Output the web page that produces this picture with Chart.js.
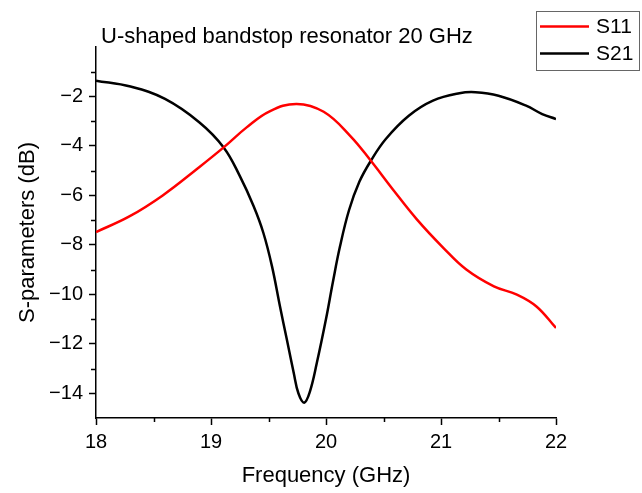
<!DOCTYPE html>
<html>
<head>
<meta charset="utf-8">
<title>U-shaped bandstop resonator 20 GHz</title>
<script src="https://cdn.jsdelivr.net/npm/chart.js@4/dist/chart.umd.min.js"></script>
<style>
  html, body { margin: 0; padding: 0; background: #fff; }
  #wrap { width: 642px; height: 493px; }
</style>
</head>
<body>
<div id="wrap">
  <canvas id="chart" width="642" height="493"></canvas>
</div>
<script>
// frequency samples (GHz) and S-parameters (dB)
const freqS11 = [18.0, 18.29, 18.58, 18.9, 19.11, 19.31, 19.51, 19.745, 19.98, 20.21, 20.39, 20.58, 20.79, 21.02, 21.22, 21.46, 21.66, 21.83, 22.0];
const s11 = [-7.48, -6.85, -6.0, -4.85, -4.06, -3.25, -2.6, -2.3, -2.62, -3.59, -4.6, -5.75, -6.97, -8.12, -9.0, -9.68, -10.01, -10.49, -11.36];

const freqS21 = [18.0, 18.3, 18.6, 18.9, 19.11, 19.25, 19.37, 19.455, 19.53, 19.6, 19.66, 19.72, 19.76, 19.81, 19.86, 19.92, 20.0, 20.06, 20.12, 20.2, 20.29, 20.39, 20.52, 20.72, 20.93, 21.16, 21.3, 21.5, 21.74, 21.88, 22.0];
const s21 = [-1.36, -1.6, -2.1, -3.05, -4.06, -5.21, -6.43, -7.51, -8.86, -10.49, -11.84, -13.19, -14.0, -14.38, -13.93, -12.78, -11.0, -9.5, -8.1, -6.6, -5.45, -4.6, -3.72, -2.78, -2.17, -1.87, -1.83, -1.97, -2.37, -2.71, -2.91];

const xTicks = [18, 19, 20, 21, 22];
const xMinor = [18.5, 19.5, 20.5, 21.5];
const yTicks = [-14, -12, -10, -8, -6, -4, -2];
const yMinor = [-13, -11, -9, -7, -5, -3, -1];

const FONT = "'Liberation Sans', Arial, Helvetica, sans-serif";
const titleText = 'U-shaped bandstop resonator 20 GHz';

function toPoints(xs, ys) {
  return xs.map((x, i) => ({ x: x, y: ys[i] }));
}

// minor ticks, plot title and the boxed legend
const decorations = {
  id: 'decorations',
  afterDraw(chart) {
    const ctx = chart.ctx;
    const xs = chart.scales.x;
    const ys = chart.scales.y;
    const area = chart.chartArea;

    ctx.save();
    ctx.strokeStyle = '#000';
    ctx.lineWidth = 1.5;
    ctx.beginPath();
    xMinor.forEach(v => {
      const px = Math.round(xs.getPixelForValue(v)) + 0.5;
      ctx.moveTo(px, area.bottom);
      ctx.lineTo(px, area.bottom + 4);
    });
    yMinor.forEach(v => {
      const py = Math.round(ys.getPixelForValue(v)) + 0.5;
      ctx.moveTo(area.left, py);
      ctx.lineTo(area.left - 5, py);
    });
    ctx.stroke();

    // title
    ctx.fillStyle = '#000';
    ctx.font = '22px ' + FONT;
    ctx.textAlign = 'left';
    ctx.textBaseline = 'middle';
    ctx.fillText(titleText, area.left + 5, 37);

    // legend
    ctx.strokeStyle = '#666';
    ctx.lineWidth = 1;
    ctx.strokeRect(536.5, 11.5, 103, 59);
    ctx.font = '21px ' + FONT;
    chart.data.datasets.forEach((ds, i) => {
      const y = 26.5 + i * 27;
      ctx.strokeStyle = ds.borderColor;
      ctx.lineWidth = 2.5;
      ctx.beginPath();
      ctx.moveTo(540, y);
      ctx.lineTo(589, y);
      ctx.stroke();
      ctx.fillStyle = '#000';
      ctx.fillText(ds.label, 596, y + 1);
    });
    ctx.restore();
  }
};

new Chart(document.getElementById('chart'), {
  type: 'scatter',
  data: {
    datasets: [
      {
        label: 'S11',
        data: toPoints(freqS11, s11),
        showLine: true,
        borderColor: '#ff0000',
        borderWidth: 2.5,
        pointRadius: 0,
        tension: 0.4
      },
      {
        label: 'S21',
        data: toPoints(freqS21, s21),
        showLine: true,
        borderColor: '#000000',
        borderWidth: 2.5,
        pointRadius: 0,
        tension: 0.4
      }
    ]
  },
  options: {
    responsive: false,
    animation: false,
    layout: { padding: { top: 47, right: 86, left: 0, bottom: 0 } },
    plugins: {
      legend: { display: false },
      title: { display: false },
      tooltip: { enabled: false }
    },
    scales: {
      x: {
        type: 'linear',
        min: 18,
        max: 22,
        afterFit(scale) { scale.height = 75; },
        afterBuildTicks(scale) { scale.ticks = xTicks.map(v => ({ value: v })); },
        border: { display: true, color: '#000', width: 1.5 },
        grid: { drawOnChartArea: false, drawTicks: true, tickLength: 7, tickColor: '#000', tickWidth: 1.5 },
        ticks: {
          color: '#000',
          font: { family: FONT, size: 20 },
          padding: 5,
          maxRotation: 0,
          callback: v => String(v)
        },
        title: {
          display: true,
          text: 'Frequency (GHz)',
          color: '#000',
          font: { family: FONT, size: 22 },
          padding: { top: 0, bottom: 4 }
        }
      },
      y: {
        type: 'linear',
        min: -15,
        max: 0,
        afterFit(scale) { scale.width = 96; },
        afterBuildTicks(scale) { scale.ticks = yTicks.map(v => ({ value: v })); },
        border: { display: true, color: '#000', width: 1.5 },
        grid: { drawOnChartArea: false, drawTicks: true, tickLength: 7, tickColor: '#000', tickWidth: 1.5 },
        ticks: {
          color: '#000',
          font: { family: FONT, size: 20 },
          padding: 6,
          callback: v => (v < 0 ? '\u2212' : '') + Math.abs(v)
        },
        title: {
          display: true,
          text: 'S-parameters (dB)',
          color: '#000',
          font: { family: FONT, size: 22 },
          padding: { top: 15, bottom: 0 }
        }
      }
    }
  },
  plugins: [decorations]
});
</script>
</body>
</html>
